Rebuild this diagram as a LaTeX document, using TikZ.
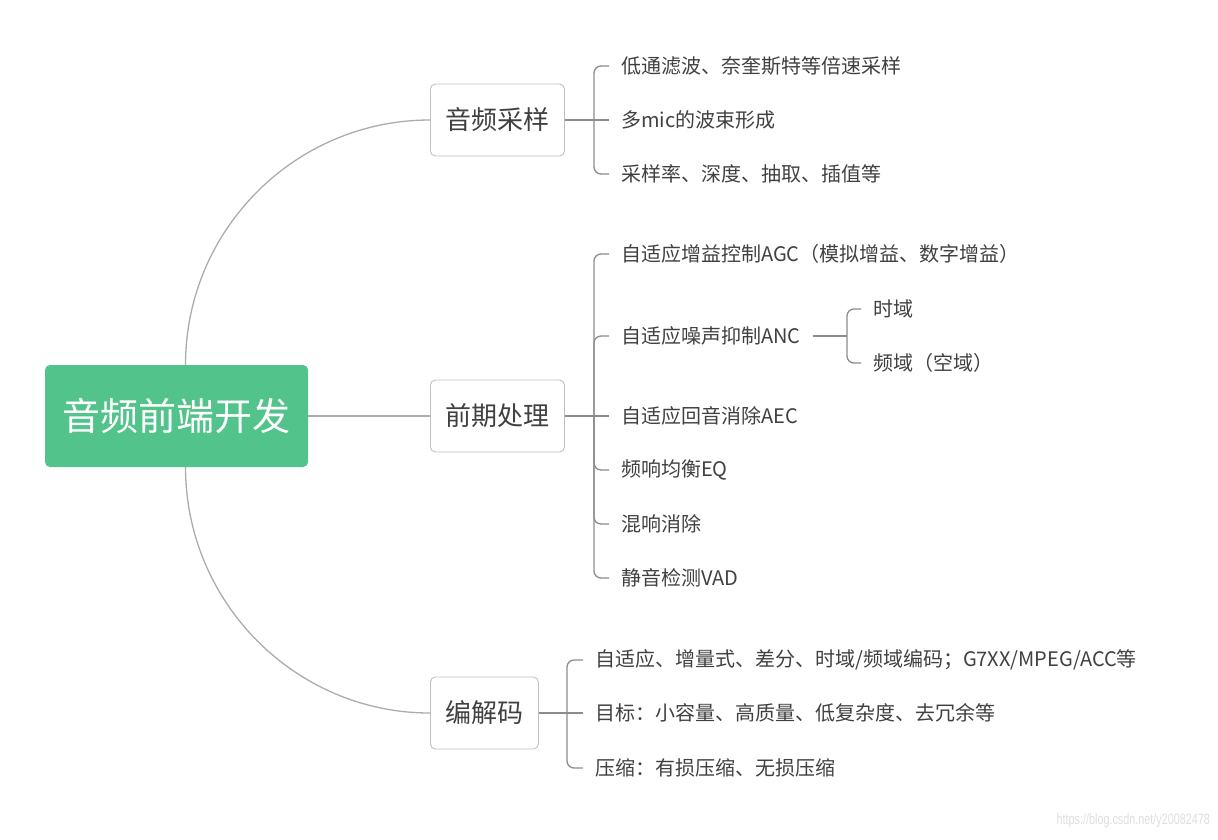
\documentclass[tikz,border=0pt]{standalone}
\usepackage{fontspec}
\usepackage{graphicx}
\usepackage{tikz}
\setmainfont{Noto Sans CJK SC}
\newfontfamily\markfont{Liberation Sans}
\usetikzlibrary{positioning}
\definecolor{rootgreen}{RGB}{82,195,139}
\definecolor{boxgray}{RGB}{192,192,192}
\definecolor{curvegray}{RGB}{172,172,172}
\definecolor{linegray}{RGB}{140,140,140}
\definecolor{textgray}{RGB}{64,64,64}
\definecolor{markgray}{RGB}{222,222,222}

\begin{document}
\begin{tikzpicture}[x=1pt, y=-1pt,
		rootbox/.style={fill=rootgreen, rounded corners=5pt, minimum width=263pt,
			minimum height=102pt, text=white, font=\fontsize{38}{38}\selectfont},
		topicbox/.style={draw=boxgray, fill=white, rounded corners=5pt, line width=0.9pt,
			minimum height=72pt, inner xsep=15pt, anchor=west, text=textgray,
			font=\fontsize{26}{26}\selectfont},
		leaf/.style={anchor=west, inner xsep=12pt, inner ysep=0pt, text=textgray,
			font=\fontsize{20}{20}\selectfont},
		curve/.style={draw=curvegray, line width=1.3pt},
		branch/.style={draw=linegray, line width=1.3pt, rounded corners=7pt}
	]
		\useasboundingbox (0,0) rectangle (1218,839);
		\node[rootbox] (root) at (176.5,416) {音频前端开发};
		% first level
		\node[topicbox, minimum width=134pt] (samp) at (430,120) {音频采样};
		\node[topicbox, minimum width=134pt] (pre) at (430,416) {前期处理};
		\node[topicbox] (codec) at (430,713) {编解码};
		% sampling
		\node[leaf] (s1) at (609,66) {低通滤波、奈奎斯特等倍速采样};
		\node[leaf] (s2) at (609,120) {多mic的波束形成};
		\node[leaf] (s3) at (609,174) {采样率、深度、抽取、插值等};
		% preprocessing
		\node[leaf] (p1) at (609,254) {自适应增益控制AGC（模拟增益、数字增益）};
		\node[leaf] (p2) at (609,336) {自适应噪声抑制ANC};
		\node[leaf] (p3) at (609,416) {自适应回音消除AEC};
		\node[leaf] (p4) at (609,470) {频响均衡EQ};
		\node[leaf] (p5) at (609,524) {混响消除};
		\node[leaf] (p6) at (609,578) {静音检测VAD};
		\node[leaf] (a1) at (861,309) {时域};
		\node[leaf] (a2) at (861,363) {频域（空域）};
		% codec
		\node[leaf] (c1) at (583,660) {自适应、增量式、差分、时域/频域编码；G7XX/MPEG/ACC等};
		\node[leaf] (c2) at (583,713) {目标：小容量、高质量、低复杂度、去冗余等};
		\node[leaf] (c3) at (583,768) {压缩：有损压缩、无损压缩};
		\node[anchor=east, inner sep=0pt, text=markgray] (mark) at (1210,821)
			{\scalebox{0.72}[1]{\markfont\fontsize{15}{15}\selectfont https://blog.csdn.net/y20082478}};

		\coordinate (jSamp) at (594,120);
		\coordinate (jPre) at (594,416);
		\coordinate (jCodec) at (567,713);
		\coordinate (jAnc) at (847,336);

		\draw[curve] (root.80) .. controls +(0,-135) and +(-135,0) .. (samp.west);
		\draw[curve] (root) -- (pre);
		\draw[curve] (root.-80) .. controls +(0,135) and +(-135,0) .. (codec.west);

		\draw[branch] (samp.east) -- (s2.west);
		\foreach \i in {s1,s3}
			\draw[branch] (jSamp) |- (\i.west);
		\draw[branch] (pre.east) -- (p3.west);
		\foreach \i in {p1,p2,p4,p5,p6}
			\draw[branch] (jPre) |- (\i.west);
		\draw[branch] (p2.east) -- (jAnc);
		\foreach \i in {a1,a2}
			\draw[branch] (jAnc) |- (\i.west);
		\draw[branch] (codec.east) -- (c2.west);
		\foreach \i in {c1,c3}
			\draw[branch] (jCodec) |- (\i.west);
	\end{tikzpicture}
\end{document}
